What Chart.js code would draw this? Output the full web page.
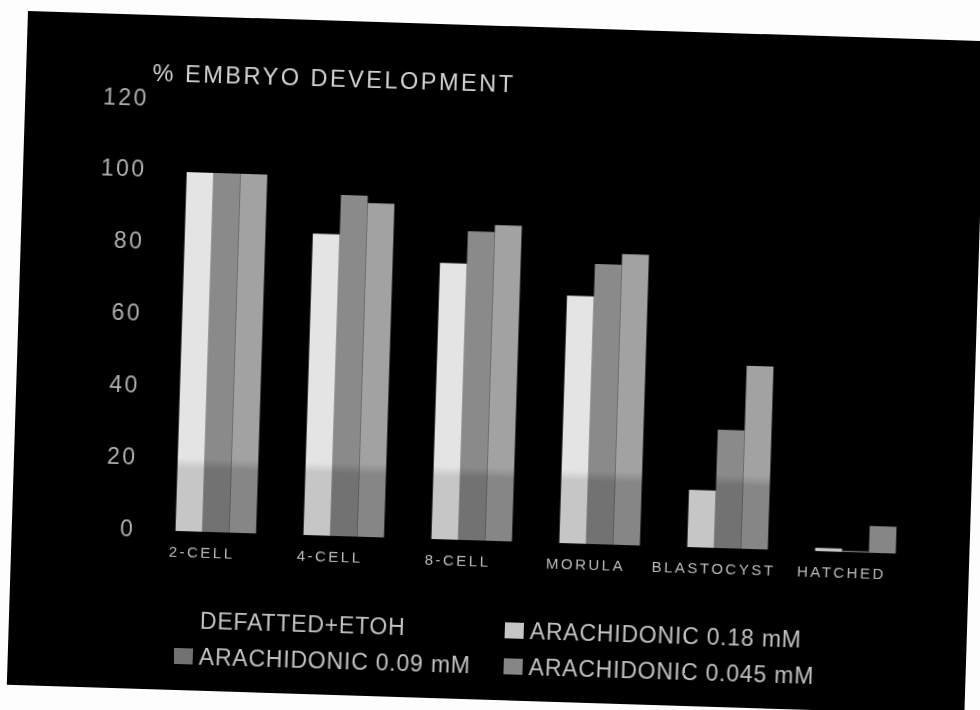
<!DOCTYPE html>
<html>
<head>
<meta charset="utf-8">
<script src="https://cdn.jsdelivr.net/npm/chart.js@4.4.1/dist/chart.umd.min.js"></script>
<style>
  body { margin: 0; background: #fdfdfd; width: 980px; height: 710px; overflow: hidden; position: relative; }
  #slide { position: absolute; left: 28px; top: 11px; width: 958px; height: 674px; background: #000;
           transform-origin: 0 0; transform: rotate(1.8deg); }
  #slide canvas { position: absolute; left: 0; top: 0; }
  .key { position: absolute; height: 28px; display: flex; align-items: center; white-space: nowrap;
         font: 23px "Liberation Sans", Arial, sans-serif; color: #c2c2c2; letter-spacing: 0.8px; }
  .key i { display: inline-block; width: 19px; height: 16px; margin-right: 6px; }
</style>
</head>
<body>
<div id="slide">
  <canvas id="chart" width="958" height="674"></canvas>
  <div id="legend"></div>
</div>
<script>
const stages = ["2-CELL", "4-CELL", "8-CELL", "MORULA", "BLASTOCYST", "HATCHED"];
const seriesNames = ["DEFATTED+ETOH", "ARACHIDONIC 0.18 mM", "ARACHIDONIC 0.09 mM", "ARACHIDONIC 0.045 mM"];

// control series is drawn black on black, so its heights can't be read
const defattedEtoh = [null, null, null, null, null, null];
const arachidonic018 = [100, 84, 77, 69, 16, 1];
const arachidonic009 = [100, 95, 86, 78, 33, 0.4];
const arachidonic0045 = [100, 93, 88, 81, 51, 7.5];

const yTicks = [0, 20, 40, 60, 80, 100, 120];

// bar shades: brighter upper part, darker lower band
const upperShade = ["#000000", "#e4e4e4", "#8a8a8a", "#a2a2a2"];
const lowerShade = ["#000000", "#c6c6c6", "#727272", "#868686"];

const FONT = '"Liberation Sans", Arial, sans-serif';

function barFill(ctx) {
  const i = ctx.datasetIndex;
  const chart = ctx.chart;
  if (!chart.chartArea || !chart.scales.y) return lowerShade[i];
  const y = chart.scales.y;
  const top = y.getPixelForValue(120);
  const bottom = y.getPixelForValue(0);
  const edge = (y.getPixelForValue(19) - top) / (bottom - top);
  const g = chart.ctx.createLinearGradient(0, top, 0, bottom);
  g.addColorStop(0, upperShade[i]);
  g.addColorStop(edge - 0.012, upperShade[i]);
  g.addColorStop(edge + 0.012, lowerShade[i]);
  g.addColorStop(1, lowerShade[i]);
  return g;
}

// wider tracking on all canvas text
const tracking = {
  id: "tracking",
  beforeUpdate(chart) { chart.ctx.letterSpacing = "2.5px"; },
  beforeLayout(chart) { chart.ctx.letterSpacing = "2.5px"; },
  beforeDraw(chart) { chart.ctx.letterSpacing = "2.5px"; }
};

const values = [defattedEtoh, arachidonic018, arachidonic009, arachidonic0045];

const chart = new Chart(document.getElementById("chart"), {
  type: "bar",
  data: {
    labels: stages,
    datasets: values.map((d, i) => ({
      label: seriesNames[i],
      data: d,
      backgroundColor: barFill,
      borderWidth: 0,
      categoryPercentage: 0.84,
      barPercentage: 1.0
    }))
  },
  options: {
    responsive: false,
    animation: false,
    layout: { padding: { left: 66.6, top: 23, right: 63.4, bottom: 118.7 } },
    plugins: {
      legend: { display: false },
      tooltip: { enabled: false },
      title: {
        display: true,
        text: "% EMBRYO DEVELOPMENT",
        align: "start",
        fullSize: false,
        color: "#d2d2d2",
        font: { family: FONT, size: 23.5, weight: "normal" },
        padding: { top: 22, bottom: 11 }
      }
    },
    scales: {
      x: {
        grid: { display: false },
        border: { display: false },
        ticks: { color: "#bcbcbc", font: { family: FONT, size: 15 }, padding: 5, maxRotation: 0, autoSkip: false },
        afterFit(s) { s.height = 40; }
      },
      y: {
        min: 0,
        max: 120,
        grid: { display: false },
        border: { display: false },
        ticks: { color: "#b0b0b0", font: { family: FONT, size: 23 }, padding: -5 },
        afterBuildTicks(s) { s.ticks = yTicks.map(v => ({ value: v })); },
        afterFit(s) { s.width = 60; }
      }
    }
  },
  plugins: [tracking]
});

// two-column legend under the plot
const colLeft = [166, 496];
const rowMid = [604, 640];
const legend = document.getElementById("legend");
chart.data.datasets.forEach((ds, i) => {
  const item = document.createElement("div");
  item.className = "key";
  item.style.left = colLeft[i % 2] + "px";
  item.style.top = (rowMid[Math.floor(i / 2)] - 14) + "px";
  const sw = document.createElement("i");
  sw.style.background = lowerShade[i];
  item.appendChild(sw);
  item.appendChild(document.createTextNode(ds.label));
  legend.appendChild(item);
});
</script>
</body>
</html>
